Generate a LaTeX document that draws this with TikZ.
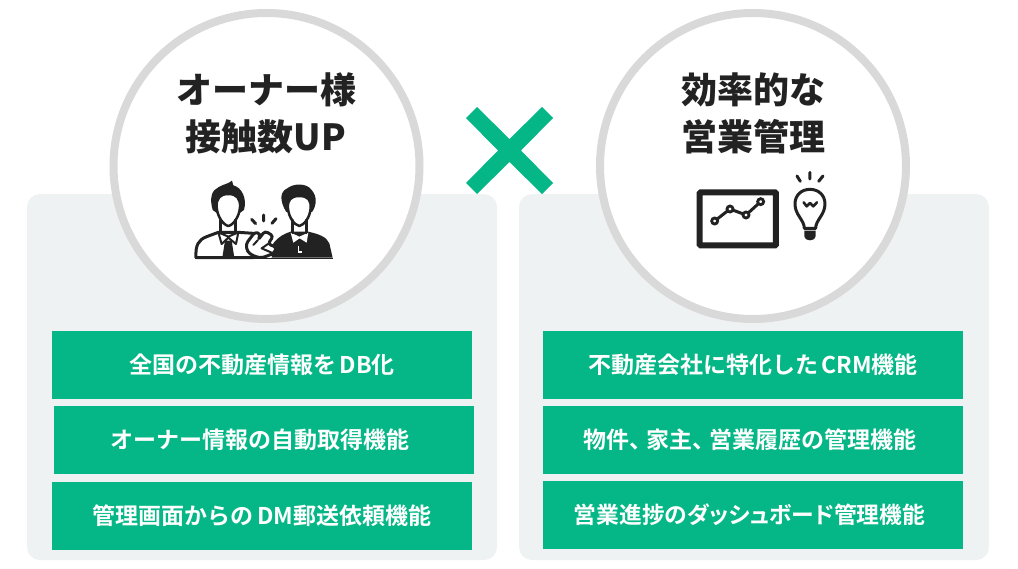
\documentclass[tikz,border=0pt]{standalone}
\usepackage{fontspec}
\setmainfont{Noto Sans CJK JP}[BoldFont={Noto Sans CJK JP Bold}]
\newfontfamily\titlefont{Noto Sans CJK JP Black}
\definecolor{gr}{HTML}{05B786}
\definecolor{panel}{HTML}{EFF2F3}
\definecolor{ring}{HTML}{D9D9D9}
\definecolor{ink}{HTML}{222222}
\newcommand{\tgap}{\hspace{3.5pt}}
\newcommand{\palted}{\addfontfeatures{RawFeature=+palt}}
\tikzset{
 panelbox/.style={fill=panel,rounded corners=13pt,draw=none},
 ringc/.style={circle,draw=ring,line width=8pt,fill=white,minimum size=306pt,inner sep=0pt},
 greenbox/.style={fill=gr,draw=none,text=white,minimum width=420pt,minimum height=68pt,inner sep=0pt,font=\bfseries\fontsize{23}{26}\selectfont},
 titletext/.style={text=ink,align=center,font=\titlefont\fontsize{36}{47}\selectfont,inner sep=0pt},
 icon/.style={line width=3pt,draw=ink,line cap=round,line join=round},
 iconz/.style={x=0.3333pt,y=-0.3333pt}
}
\begin{document}
\begin{tikzpicture}[x=1pt,y=-1pt]
\useasboundingbox (0,0) rectangle (1018,568);
\fill[white] (0,0) rectangle (1018,568);
\fill[panelbox] (27,194) rectangle (497,560);
\fill[panelbox] (519,194) rectangle (989,560);
\node[ringc] (c1) at (266.5,166) {};
\node[ringc] (c2) at (753,166) {};
\node[titletext] (t1) at (266,113) {オーナー様\\接触数UP};
\node[titletext] (t2) at (753.5,113) {効率的な\\営業管理};
% cross
\fill[gr] (466,118) -- (477,107) -- (509.5,139) -- (542,107) -- (553,118) -- (521,150.5) -- (553,183) -- (542,194) -- (509.5,162) -- (477,194) -- (466,183) -- (498,150.5) -- cycle;
% boxes
\node[greenbox] (a1) at (262,365) {全国の不動産情報を\tgap DB化};
\node[greenbox] (a2) at (264,440) {\hspace*{-8pt}オーナー情報の自動取得機能};
\node[greenbox] (a3) at (262,516) {管理画面からの\tgap DM郵送依頼機能};
\node[greenbox] (b1) at (753,365) {不動産会社に特化した\tgap CRM機能};
\node[greenbox] (b2) at (753,440) {\hspace*{-6pt}物件、\hspace{-6pt}家主、\hspace{-6pt}営業履歴の管理機能};
\node[greenbox] (b3) at (753,515) {\hspace*{-7pt}\palted\fontsize{22.8}{26}\selectfont 営業進捗のダッシュボード管理機能};
% people icon
\begin{scope}[shift={(170,170)},iconz]
 % left person body
 \draw[icon,fill=white] (78,263) .. controls (76,225) and (85,210) .. (110,200) -- (145,187) -- (205,187) -- (250,190) -- (250,263) -- cycle;
 % tie and collar
 \fill[ink] (165,212) -- (185,212) -- (193,263) -- (157,263) -- cycle;
 \draw[icon,fill=white,line width=2pt] (145,187) -- (175,200) -- (205,187) -- (198,222) -- (175,203) -- (155,222) -- cycle;
 % left head
 \fill[ink] (128,120) .. controls (118,85) and (125,60) .. (145,52) .. controls (160,42) and (175,42) .. (186,32) -- (190,46) .. controls (215,52) and (232,85) .. (222,120) -- (208,130) -- (142,130) -- cycle;
 \draw[icon,fill=white,line width=2.5pt] (175,72) .. controls (150,72) and (138,85) .. (140,112) .. controls (142,140) and (160,165) .. (175,168) .. controls (190,165) and (208,140) .. (210,112) .. controls (212,85) and (200,72) .. (175,72) -- cycle;
 \draw[icon] (153,150) -- (153,188) (197,150) -- (197,188);
 % right person body
 \fill[ink] (305,263) -- (310,220) .. controls (325,200) and (345,190) .. (362,185) -- (415,185) .. controls (445,192) and (470,200) .. (478,220) -- (488,263) -- cycle;
 \fill[white] (362,188) -- (388,200) -- (415,188) -- (410,218) -- (389,205) -- (370,218) -- cycle;
 \draw[white,line width=1.5pt] (385,228) -- (385,246) -- (396,246);
 % right head
 \fill[ink] (348,125) .. controls (328,90) and (330,65) .. (352,55) .. controls (370,40) and (410,38) .. (425,60) .. controls (442,80) and (440,105) .. (427,125) -- (410,130) -- (365,130) -- cycle;
 \draw[icon,fill=white,line width=2.5pt] (388,78) .. controls (362,78) and (352,90) .. (354,115) .. controls (356,142) and (373,165) .. (388,168) .. controls (403,165) and (420,142) .. (422,115) .. controls (424,90) and (414,78) .. (388,78) -- cycle;
 \draw[icon] (367,150) -- (367,188) (410,150) -- (410,188);
 % hands
 \draw[icon,fill=white,rounded corners=3pt] (228,222) -- (255,186) -- (272,192) -- (264,210) -- (285,183) -- (310,198) -- (294,222) -- (320,232) -- (312,250) -- (275,264) -- (250,258) -- (232,245) -- cycle;
 \draw[icon,line width=2pt] (264,210) -- (250,225) (294,222) -- (275,235) -- (305,248);
 % sparks
 \draw[icon] (245,148) -- (257,161) (281,135) -- (281,153) (318,146) -- (306,160);
 % ground
 \draw[draw=ink,line width=1.4pt] (74,265) -- (490,265);
\end{scope}
% chart and bulb icon
\begin{scope}[shift={(680,160)},iconz]
 \draw[draw=ink,line width=6pt,rounded corners=1pt] (59,97) rectangle (288,256);
 \draw[draw=ink,line width=3pt,fill=white] (104,183) -- (150,147) -- (198,165) -- (242,125);
 \foreach \p in {(104,183),(150,147),(198,165),(242,125)} \draw[draw=ink,line width=2.8pt,fill=white] \p circle (9);
 % bulb
 \draw[icon] (373,205) .. controls (373,180) and (345,165) .. (345,132) .. controls (345,105) and (365,88) .. (390,88) .. controls (415,88) and (435,105) .. (435,132) .. controls (435,165) and (407,180) .. (407,205) -- cycle;
 \fill[ink] (373,212) -- (407,212) -- (407,228) .. controls (405,238) and (398,241) .. (390,241) .. controls (382,241) and (375,238) .. (373,228) -- cycle;
 \draw[icon,line width=2.6pt] (371,127) -- (380,139) -- (390,129) -- (400,139) -- (411,127);
 \draw[icon] (351,48) -- (361,64) (390,37) -- (390,57) (429,48) -- (416,64);
\end{scope}
\end{tikzpicture}
\end{document}
